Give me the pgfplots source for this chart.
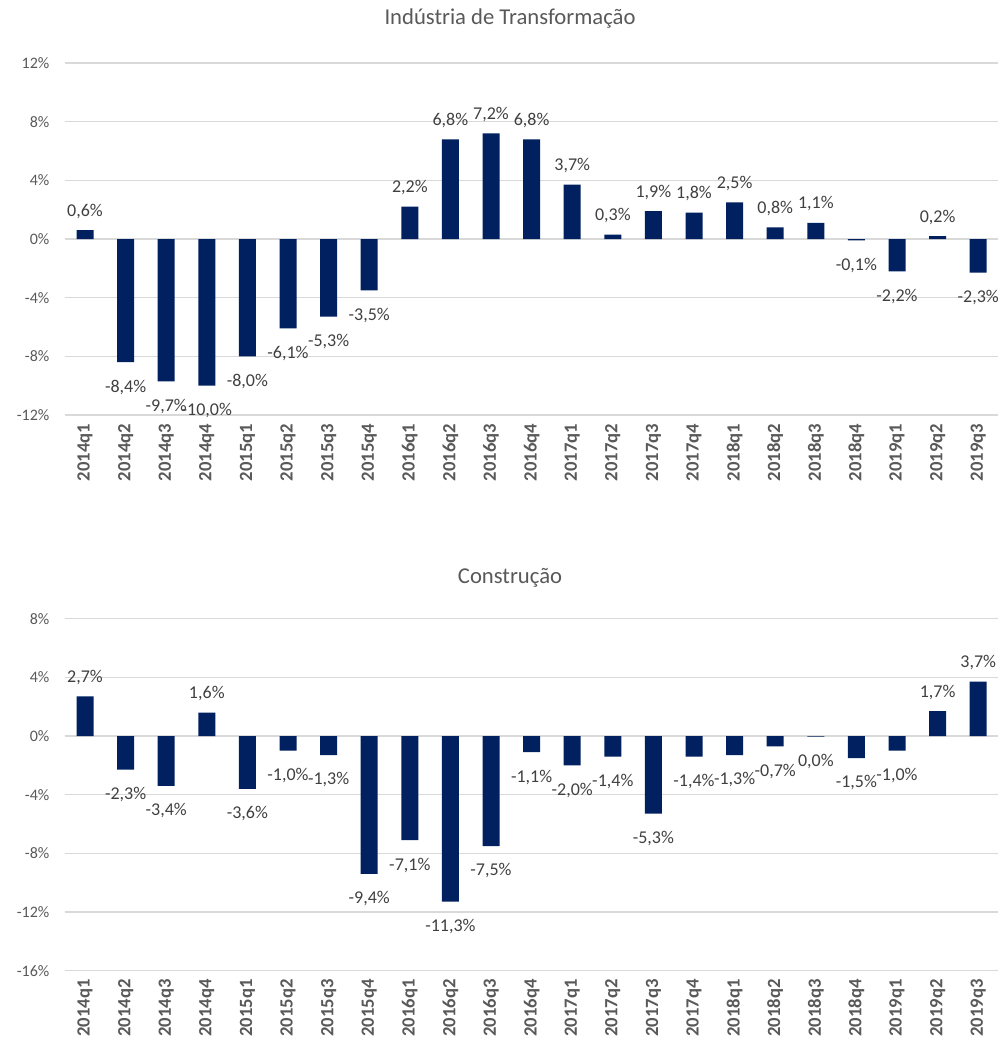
\documentclass[border=0pt]{standalone}
\usepackage{pgfplots}
\pgfplotsset{compat=1.18}
\usepackage{pgfplotstable}
\usepackage{fontspec}
\setmainfont{Carlito}

\definecolor{barblue}{RGB}{0,32,96}
\definecolor{labgray}{RGB}{64,64,64}
\definecolor{tickgray}{RGB}{89,89,89}
\definecolor{gridgray}{RGB}{217,217,217}

% Quarterly growth, % (labels written with a decimal comma)
\pgfplotstableread{
x y lab
0 0.6 0,6
1 -8.4 -8,4
2 -9.7 -9,7
3 -10.0 -10,0
4 -8.0 -8,0
5 -6.1 -6,1
6 -5.3 -5,3
7 -3.5 -3,5
8 2.2 2,2
9 6.8 6,8
10 7.2 7,2
11 6.8 6,8
12 3.7 3,7
13 0.3 0,3
14 1.9 1,9
15 1.8 1,8
16 2.5 2,5
17 0.8 0,8
18 1.1 1,1
19 -0.1 -0,1
20 -2.2 -2,2
21 0.2 0,2
22 -2.3 -2,3
}\industria

\pgfplotstableread{
x y lab
0 2.7 2,7
1 -2.3 -2,3
2 -3.4 -3,4
3 1.6 1,6
4 -3.6 -3,6
5 -1.0 -1,0
6 -1.3 -1,3
7 -9.4 -9,4
8 -7.1 -7,1
9 -11.3 -11,3
10 -7.5 -7,5
11 -1.1 -1,1
12 -2.0 -2,0
13 -1.4 -1,4
14 -5.3 -5,3
15 -1.4 -1,4
16 -1.3 -1,3
17 -0.7 -0,7
18 -0.04 0,0
19 -1.5 -1,5
20 -1.0 -1,0
21 1.7 1,7
22 3.7 3,7
}\construcao

\pgfplotsset{quarterbars/.style={
  x=30.45pt, y=11pt, anchor=origin,
  xmin=-0.5, xmax=22.5,
  axis line style={draw=none},
  major tick length=0pt,
  ymajorgrids, grid style={gridgray, line width=0.8pt},
  ytick distance=4,
  yticklabel={\pgfmathprintnumber[assume math mode=true]{\tick}\%},
  yticklabel style={font=\fontsize{12}{12}\selectfont, text=tickgray, xshift=-8pt},
  xtick={0,...,22},
  xticklabels={2014q1,2014q2,2014q3,2014q4,2015q1,2015q2,2015q3,2015q4,
    2016q1,2016q2,2016q3,2016q4,2017q1,2017q2,2017q3,2017q4,
    2018q1,2018q2,2018q3,2018q4,2019q1,2019q2,2019q3},
  xticklabel style={rotate=90, anchor=east, font=\bfseries\fontsize{14}{14}\selectfont, text=tickgray, xshift=-3pt},
  ybar, bar width=12.75pt, bar shift=0pt,
  point meta=explicit symbolic,
  visualization depends on={\thisrow{y} \as \rawy},
  nodes near coords={\pgfplotspointmeta\%},
  every node near coord/.append style={
    font=\fontsize{13.5}{14}\selectfont, text=labgray, inner ysep=8.5pt,
    /utils/exec={\ifdim\rawy pt<0pt
        \def\labanchor{north}\def\labshift{-4.5pt}%
      \else
        \def\labanchor{south}\def\labshift{0pt}%
      \fi},
    anchor=\labanchor, yshift=\labshift},
  clip=false,
}}

\begin{document}
\begin{tikzpicture}
\path[use as bounding box] (0,0) rectangle (748.5pt,-778.5pt);

\begin{axis}[quarterbars, at={(63.75pt,-179.25pt)}, ymin=-12, ymax=12]
  \addplot[fill=barblue, draw=none] table[x=x, y=y, meta=lab] {\industria};
\end{axis}

\begin{axis}[quarterbars, at={(63.75pt,-552pt)}, ymin=-16, ymax=8]
  \addplot[fill=barblue, draw=none] table[x=x, y=y, meta=lab] {\construcao};
\end{axis}

\node[text=tickgray, font=\fontsize{17}{18}\selectfont] at (382.5pt,-14pt) {Indústria de Transformação};
\node[text=tickgray, font=\fontsize{17}{18}\selectfont] at (382.5pt,-433pt) {Construção};
\end{tikzpicture}
\end{document}
